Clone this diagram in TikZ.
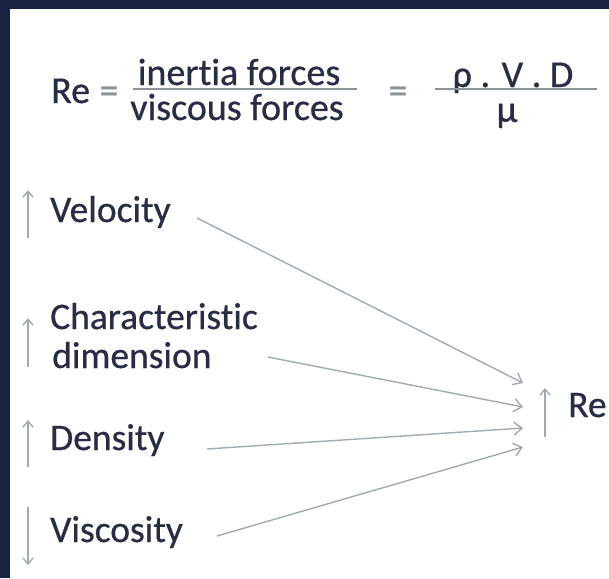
\documentclass[tikz,border=0pt]{standalone}
\usepackage{fontspec}
\setmainfont{Carlito}[FakeBold=0.6,Ligatures=NoCommon]
\usetikzlibrary{arrows.meta}
\definecolor{navy}{RGB}{25,33,65}
\definecolor{ink}{RGB}{40,44,68}
\definecolor{arrowgray}{RGB}{160,170,175}
\definecolor{bargray}{RGB}{140,146,150}
\tikzset{
  lbl/.style={anchor=base west, inner sep=0pt, text=ink, font=\fontsize{37.5}{40}\selectfont},
  frm/.style={anchor=base, inner sep=0pt, text=ink, font=\fontsize{38}{40}\selectfont},
  eqs/.style={anchor=base, inner sep=0pt, text=bargray, font=\fontsize{38}{40}\selectfont},
  conn/.style={draw=arrowgray, line width=1.4pt, -{Straight Barb[length=8pt,width=13pt,line width=1.4pt]}},
  trend/.style={draw=arrowgray, line width=1.6pt, -{Straight Barb[length=6pt,width=10pt,line width=1.4pt]}},
  fracbar/.style={draw=bargray, line width=2.8pt}
}
\begin{document}
\begin{tikzpicture}[x=1pt,y=-1pt]
\useasboundingbox (0,0) rectangle (609,578);
\fill[navy] (0,0) rectangle (609,578);
\fill[white] (10,9) rectangle (609,578);

% formula
\node[lbl, font=\fontsize{38}{40}\selectfont] (re1) at (51,103) {Re};
\node[eqs] (eq1) at (109,103) {=};
\node[frm] (num1) at (239,85) {inertia forces};
\node[frm] (den1) at (237,120) {viscous forces};
\draw[fracbar] (133,89) -- (357,89);
\node[eqs] (eq2) at (398,103) {=};
\node[frm, text depth=0pt] (num2) at (513,87) {ρ . V . D};
\node[frm, text height=17pt] (den2) at (507,122) {μ};
\draw[fracbar] (435,89) -- (597,89);

% labels
\node[lbl] (vel) at (50,222) {Velocity};
\node[lbl] (chr) at (50,329) {Characteristic};
\node[lbl] (dim) at (52,368) {dimension};
\node[lbl] (den) at (50,450) {Density};
\node[lbl] (vis) at (50,542) {Viscosity};
\node[lbl] (re2) at (568,417) {Re};

% trend arrows
\coordinate (va) at (28,238); \coordinate (vb) at (28,190);
\coordinate (ca) at (28,367); \coordinate (cb) at (28,318);
\coordinate (da) at (28,467); \coordinate (db) at (28,420);
\coordinate (sa) at (28,507); \coordinate (sb) at (28,565);
\coordinate (ra) at (545,437); \coordinate (rb) at (545,388);
\draw[trend] (va) -- (vb);
\draw[trend] (ca) -- (cb);
\draw[trend] (da) -- (db);
\draw[trend] (sa) -- (sb);
\draw[trend] (ra) -- (rb);

% connectors
\coordinate (vo) at (197,218);
\coordinate (co) at (268,357);
\coordinate (do) at (207,449);
\coordinate (so) at (217,536);
\coordinate (in1) at (523,383);
\coordinate (in2) at (523,407);
\coordinate (in3) at (523,428);
\coordinate (in4) at (523,447);
\draw[conn] (vo) -- (in1);
\draw[conn] (co) -- (in2);
\draw[conn] (do) -- (in3);
\draw[conn] (so) -- (in4);
\end{tikzpicture}
\end{document}
